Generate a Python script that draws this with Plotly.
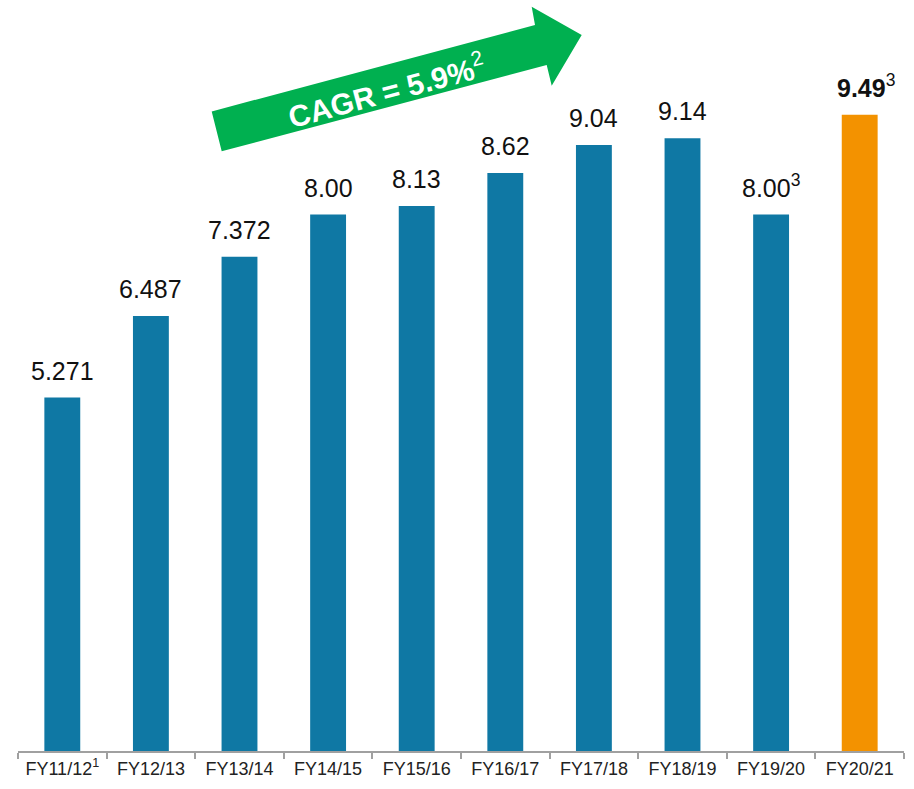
import plotly.graph_objects as go

# Fiscal years and values
years = ["FY11/12<sup>1</sup>", "FY12/13", "FY13/14", "FY14/15", "FY15/16",
         "FY16/17", "FY17/18", "FY18/19", "FY19/20", "FY20/21"]
values = [5.271, 6.487, 7.372, 8.00, 8.13, 8.62, 9.04, 9.14, 8.00, 9.49]
value_labels = ["5.271", "6.487", "7.372", "8.00", "8.13", "8.62", "9.04", "9.14",
                "8.00<sup>3</sup>", "<b>9.49</b><sup>3</sup>"]
label_xshift = [0, 0, 0, 0, 0, 0, 0, 0, 0, 6]

BLUE = "#0F78A4"
ORANGE = "#F39200"
GREEN = "#00B050"
colors = [BLUE] * 9 + [ORANGE]

idx = list(range(len(years)))

fig = go.Figure()
fig.add_trace(go.Bar(
    x=idx, y=values,
    marker=dict(color=colors, line=dict(width=0)),
    width=0.405,
    hoverinfo="skip",
))

# Growth arrow (paper coordinates)
W, H, L, B = 886.0, 707.0, 18.0, 754.0
def px(x, y):
    return (x - L) / W, (B - y) / H

pts = [(221.7, 151.7), (211.7, 111.7), (535.0, 25.0), (531.7, 6.7),
       (581.7, 35.0), (551.7, 86.0), (546.7, 65.0)]
path = "M " + " L ".join(f"{px(x, y)[0]:.5f},{px(x, y)[1]:.5f}" for x, y in pts) + " Z"
fig.add_shape(type="path", path=path, xref="paper", yref="paper",
              fillcolor=GREEN, line=dict(width=0), layer="below")

cx, cy = px(386, 90)
fig.add_annotation(
    x=cx, y=cy, xref="paper", yref="paper", showarrow=False,
    xanchor="center", yanchor="middle",
    text="<b>CAGR = 5.9%</b><sup>2</sup>", textangle=-15,
    font=dict(family="Liberation Sans, Arial", size=30, color="white"),
)

# Value labels above each bar
for i, v, lab, xs in zip(idx, values, value_labels, label_xshift):
    fig.add_annotation(
        x=i, y=v, xref="x", yref="y", text=lab, showarrow=False,
        yanchor="bottom", yshift=11, xshift=xs,
        font=dict(family="Liberation Sans, Arial", size=25, color="#111111"),
    )

fig.update_layout(
    width=914, height=789,
    margin=dict(l=18, r=10, t=47, b=35),
    paper_bgcolor="white", plot_bgcolor="white",
    showlegend=False,
)
fig.update_xaxes(
    range=[-0.5, 9.5],
    tickmode="array", tickvals=idx, ticktext=years,
    ticks="", showline=True, linecolor="#A0A0A0", linewidth=2,
    showgrid=False, zeroline=False,
    tickfont=dict(family="Liberation Sans, Arial", size=18, color="#222222"),
    minor=dict(tickmode="array", tickvals=[i - 0.5 for i in range(11)],
               ticks="outside", ticklen=6, tickcolor="#A0A0A0", tickwidth=2,
               showgrid=False),
)
fig.update_yaxes(range=[0, 10.5], visible=False, showgrid=False, zeroline=False)

fig.write_html("out.html")
